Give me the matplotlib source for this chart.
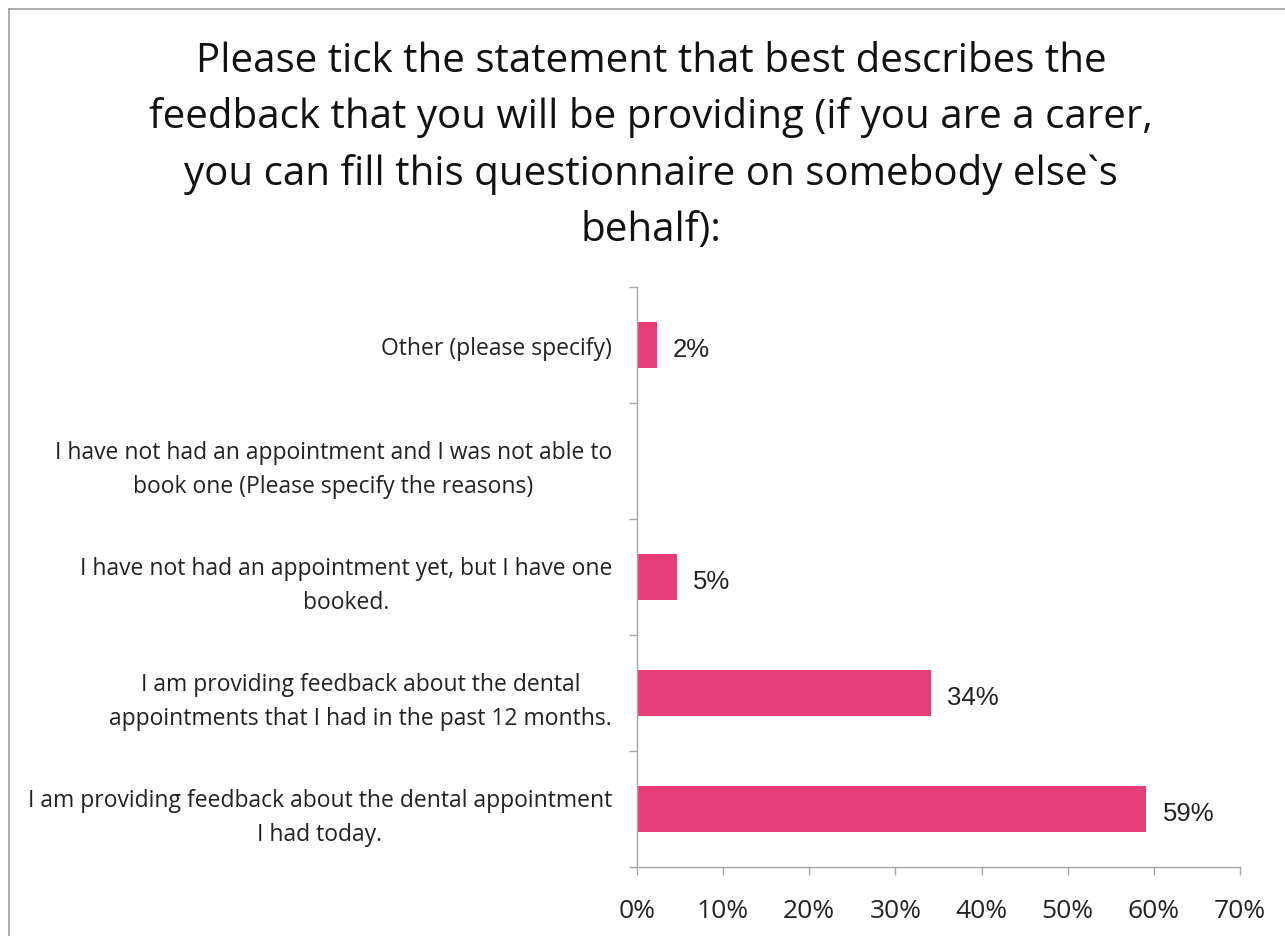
import matplotlib
matplotlib.use("Agg")
import matplotlib.pyplot as plt
from matplotlib.lines import Line2D
from matplotlib.ticker import FixedLocator, PercentFormatter

TITLE = ("Please tick the statement that best describes the\n"
         "feedback that you will be providing (if you are a carer,\n"
         "you can fill this questionnaire on somebody else`s\n"
         "behalf):")

# bottom to top
categories = [
    "I am providing feedback about the dental appointment\nI had today.",
    "I am providing feedback about the dental\nappointments that I had in the past 12 months.",
    "I have not had an appointment yet, but I have one\nbooked.",
    "I have not had an appointment and I was not able to\nbook one (Please specify the reasons)",
    "Other (please specify)",
]
shares = [59.1, 34.1, 4.6, 0.0, 2.3]
x_ticks = [0, 10, 20, 30, 40, 50, 60, 70]

BAR_COLOR = "#E63E79"
AXIS_GRAY = "#A6A6A6"
TEXT_FONT = "Open Sans"

fig = plt.figure(figsize=(12.85, 9.37), dpi=100)
ax = fig.add_axes([0.4957, 0.0736, 0.965 - 0.4957, 0.6926 - 0.0736])

ypos = list(range(len(categories)))
ax.barh(ypos, shares, height=0.4, color=BAR_COLOR, zorder=2)

for y, v in zip(ypos, shares):
    if v > 0:
        ax.text(v + 1.9, y - 0.03, f"{v:.0f}%", va="center", ha="left",
                fontsize=18.5, family="Liberation Sans", color="#222222")

ax.set_xlim(0, 70)
ax.set_ylim(-0.5, len(categories) - 0.5)

# x axis
ax.xaxis.set_major_locator(FixedLocator(x_ticks))
ax.xaxis.set_major_formatter(PercentFormatter(decimals=0))
ax.tick_params(axis="x", direction="out", length=6, width=1, color=AXIS_GRAY,
               pad=16, labelsize=19, labelcolor="#222222")
for lab in ax.get_xticklabels():
    lab.set_family(TEXT_FONT)

# y axis: ticks at category boundaries, labels at centres
ax.yaxis.set_major_locator(FixedLocator([i - 0.5 for i in range(len(categories) + 1)]))
ax.yaxis.set_major_formatter(plt.NullFormatter())
ax.yaxis.set_minor_locator(FixedLocator(ypos))
ax.set_yticklabels(categories, minor=True)
ax.tick_params(axis="y", which="major", direction="out", length=6, width=1, color=AXIS_GRAY)
ax.tick_params(axis="y", which="minor", length=0, pad=18, labelsize=16.5, labelcolor="#222222")
for lab in ax.get_yticklabels(minor=True):
    lab.set_family(TEXT_FONT)
    lab.set_multialignment("center")
    lab.set_linespacing(1.55)

for side in ("top", "right"):
    ax.spines[side].set_visible(False)
for side in ("left", "bottom"):
    ax.spines[side].set_color(AXIS_GRAY)
    ax.spines[side].set_linewidth(1)

fig.text(651 / 1285, 1 - 146 / 937, TITLE, ha="center", va="center",
         multialignment="center", fontsize=29, family=TEXT_FONT,
         linespacing=1.5, color="#111111")

# outer frame (top and left edges visible)
fig.add_artist(Line2D([9 / 1285, 9 / 1285], [0, 1 - 10 / 937], transform=fig.transFigure,
                      color="#A0A0A0", linewidth=1.2))
fig.add_artist(Line2D([9 / 1285, 1], [1 - 10 / 937, 1 - 10 / 937], transform=fig.transFigure,
                      color="#A0A0A0", linewidth=1.2))

fig.savefig("out.png", dpi=100, facecolor="white")
